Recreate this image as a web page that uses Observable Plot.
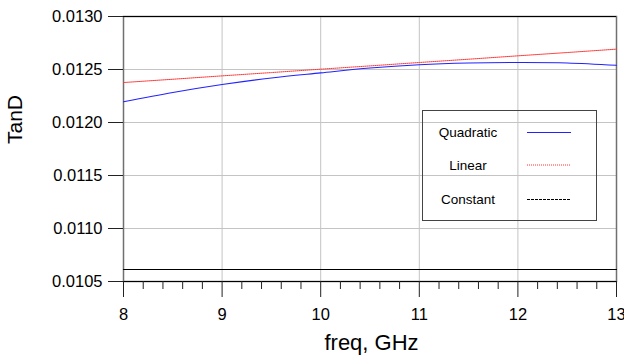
<!DOCTYPE html>
<html>
<head>
<meta charset="utf-8">
<script src="https://cdn.jsdelivr.net/npm/d3@7"></script>
<script src="https://cdn.jsdelivr.net/npm/@observablehq/plot@0.6"></script>
<style>
  html, body { margin: 0; padding: 0; background: #fff; }
  #wrap { position: relative; width: 624px; height: 360px; font-family: "Liberation Sans", Arial, sans-serif; }
  #legend { position: absolute; left: 422px; top: 110px; width: 173px; height: 109px; border: 1px solid #444; background: transparent; }
  #legend svg { position: absolute; left: 0; top: 0; }
</style>
</head>
<body>
<div id="wrap"></div>
<script>
// ---- data ----
const freq = [8, 8.5, 9, 9.5, 10, 10.5, 11, 11.5, 12, 12.5, 13];
const quadratic = [0.012195, 0.012283, 0.012358, 0.012420, 0.012468, 0.012514, 0.012545, 0.012561, 0.012566, 0.012562, 0.012540];
const linear = [0.012377, 0.012408, 0.012440, 0.012471, 0.012503, 0.012534, 0.012566, 0.012597, 0.012629, 0.012660, 0.012692];
const constant = [0.010613, 0.010613, 0.010613, 0.010613, 0.010613, 0.010613, 0.010613, 0.010613, 0.010613, 0.010613, 0.010613];
const seriesNames = ["Quadratic", "Linear", "Constant"];
const xTicks = [8, 9, 10, 11, 12, 13];
const xMinorTicks = [8.2, 8.4, 8.6, 8.8, 9.2, 9.4, 9.6, 9.8, 10.2, 10.4, 10.6, 10.8, 11.2, 11.4, 11.6, 11.8, 12.2, 12.4, 12.6, 12.8];
const yTicks = [0.0105, 0.0110, 0.0115, 0.0120, 0.0125, 0.0130];
const xLabel = "freq, GHz";
const yLabel = "TanD";

const styles = {
  Quadratic: {stroke: "#2222ff", strokeWidth: 1.1, dash: null},
  Linear: {stroke: "#ff3333", strokeWidth: 1, dash: "1,1"},
  Constant: {stroke: "#000000", strokeWidth: 1, dash: "3,1"}
};

const rows = (vals) => freq.map((f, i) => ({f, v: vals[i]}));

const chart = Plot.plot({
  width: 624,
  height: 360,
  marginLeft: 123,
  marginRight: 8,
  marginTop: 16,
  marginBottom: 79,
  style: {fontFamily: "'Liberation Sans', Arial, sans-serif", fontSize: "16px", color: "#000", background: "#fff"},
  x: {domain: [8, 13]},
  y: {domain: [0.0105, 0.0130]},
  marks: [
    Plot.gridX(xTicks, {stroke: "#c4c4c4", strokeOpacity: 1}),
    Plot.gridY(yTicks, {stroke: "#c4c4c4", strokeOpacity: 1}),
    Plot.frame({stroke: "#707070", strokeWidth: 1.5}),
    Plot.ruleY([yTicks[0], yTicks[yTicks.length - 1]], {stroke: "#000", strokeWidth: 1.2}),
    Plot.axisY(yTicks, {tickSize: 15, tickPadding: 6, tickFormat: d3.format(".4f"), label: null, fontSize: 16.5, stroke: "#222"}),
    Plot.axisX(xTicks, {tickSize: 16, tickPadding: 11, tickFormat: d3.format("d"), label: null, fontSize: 16.5, stroke: "#222"}),
    Plot.axisX(xMinorTicks, {tickSize: 8, tickFormat: () => "", label: null, stroke: "#222"}),
    Plot.line(rows(constant), {x: "f", y: "v", stroke: "#000", strokeWidth: 1.2}),
    Plot.line(rows(linear), {x: "f", y: "v", stroke: styles.Linear.stroke, strokeWidth: 1, strokeDasharray: "1,1"}),
    Plot.line(rows(quadratic), {x: "f", y: "v", stroke: styles.Quadratic.stroke, strokeWidth: 1.1, curve: "catmull-rom"}),
    Plot.text([xLabel], {frameAnchor: "bottom", dy: 68, dx: 1.5, fontSize: 22}),
    Plot.text([yLabel], {frameAnchor: "left", dx: -108, dy: -5, rotate: -90, fontSize: 21, fontFamily: "'Liberation Sans Narrow', 'Liberation Sans', Arial, sans-serif"})
  ]
});

const wrap = document.getElementById("wrap");
wrap.appendChild(chart);

// legend overlay
const legend = document.createElement("div");
legend.id = "legend";
wrap.appendChild(legend);
const ys = [21.5, 54, 88.5];
const svg = d3.select(legend).append("svg").attr("width", 173).attr("height", 109);
seriesNames.forEach((name, i) => {
  const s = styles[name];
  svg.append("text").attr("x", 45).attr("y", ys[i]).attr("text-anchor", "middle")
    .attr("dominant-baseline", "central").attr("font-size", 13.5)
    .attr("font-family", "'Liberation Sans', Arial, sans-serif").attr("fill", "#000").text(name);
  const ln = svg.append("line").attr("x1", 104).attr("x2", 148).attr("y1", ys[i]).attr("y2", ys[i])
    .attr("stroke", s.stroke).attr("stroke-width", s.strokeWidth);
  if (s.dash) ln.attr("stroke-dasharray", s.dash);
});
</script>
</body>
</html>
